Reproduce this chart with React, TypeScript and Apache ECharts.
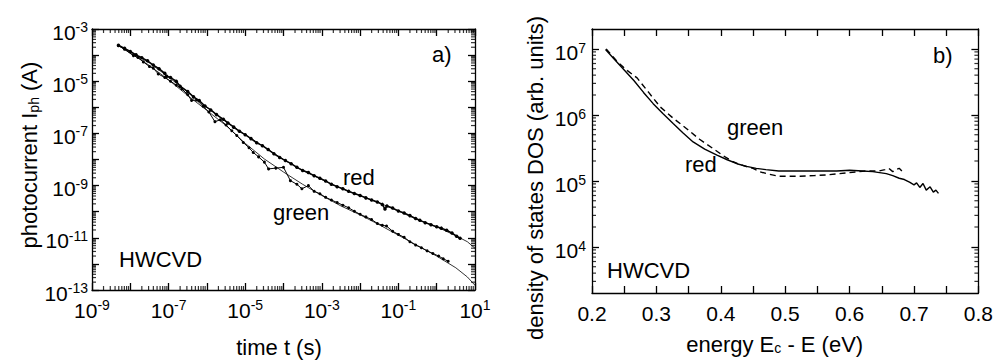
import React, { useEffect, useRef } from 'react';
import * as echarts from 'echarts';

const FONT = '"Liberation Sans", Arial, Helvetica, sans-serif';

// ---------- Panel a) : photocurrent transients (log10 time, log10 current) ----------
const aTimeTickExps = [-9, -8, -7, -6, -5, -4, -3, -2, -1, 0, 1];
const aTimeLabelExps = [-9, -7, -5, -3, -1, 1];
const aCurrentTickExps = [-13, -12, -11, -10, -9, -8, -7, -6, -5, -4, -3];
const aCurrentLabelExps = [-13, -11, -9, -7, -5, -3];

const redMeasured: [number, number][] = [
  [-8.31, -3.62], [-8.15, -3.74], [-8.0, -3.86], [-7.85, -3.99], [-7.7, -4.1], [-7.55, -4.22],
  [-7.4, -4.38], [-7.25, -4.52], [-7.1, -4.7], [-7.05, -4.81], [-6.95, -4.86], [-6.8, -5.0],
  [-6.7, -5.19], [-6.5, -5.4], [-6.35, -5.6], [-6.2, -5.74], [-6.05, -5.95], [-5.9, -6.1],
  [-5.75, -6.28], [-5.57, -6.46], [-5.45, -6.6], [-5.3, -6.76], [-5.15, -6.92], [-5.0, -7.05],
  [-4.85, -7.2], [-4.7, -7.36], [-4.55, -7.47], [-4.4, -7.62], [-4.25, -7.78], [-4.1, -7.92],
  [-3.95, -8.04], [-3.8, -8.16], [-3.65, -8.3], [-3.5, -8.42], [-3.35, -8.5], [-3.2, -8.62],
  [-3.05, -8.72], [-2.9, -8.82], [-2.75, -8.95], [-2.6, -9.04], [-2.45, -9.12], [-2.3, -9.22],
  [-2.15, -9.3], [-2.0, -9.38], [-1.85, -9.47], [-1.7, -9.55], [-1.55, -9.63], [-1.42, -9.72],
  [-1.35, -9.9], [-1.3, -9.78], [-1.15, -9.86], [-1.0, -9.97], [-0.85, -10.05], [-0.7, -10.15],
  [-0.55, -10.26], [-0.44, -10.33], [-0.3, -10.42], [-0.15, -10.5], [0.0, -10.58], [0.12, -10.63],
  [0.26, -10.71], [0.4, -10.82], [0.52, -10.94], [0.61, -11.02],
];

const greenMeasured: [number, number][] = [
  [-8.31, -3.64], [-8.15, -3.78], [-7.92, -4.02], [-7.8, -4.09], [-7.66, -4.26], [-7.5, -4.44],
  [-7.4, -4.5], [-7.27, -4.72], [-7.1, -4.86], [-6.95, -5.0], [-6.8, -5.15], [-6.65, -5.3],
  [-6.5, -5.52], [-6.4, -5.74], [-6.27, -5.72], [-6.1, -5.96], [-5.95, -6.18], [-5.79, -6.55],
  [-5.65, -6.48], [-5.5, -6.68], [-5.35, -6.9], [-5.22, -7.08], [-5.05, -7.35], [-4.9, -7.55],
  [-4.79, -7.73], [-4.65, -7.9], [-4.5, -8.1], [-4.39, -8.36], [-4.2, -8.33], [-4.0, -8.3],
  [-3.82, -8.81], [-3.65, -8.95], [-3.52, -9.12], [-3.35, -9.0], [-3.2, -9.22], [-3.05, -9.31],
  [-2.9, -9.45], [-2.75, -9.55], [-2.6, -9.65], [-2.45, -9.75], [-2.3, -9.85], [-2.15, -9.98],
  [-2.0, -10.1], [-1.85, -10.2], [-1.7, -10.3], [-1.55, -10.45], [-1.42, -10.52], [-1.31, -10.55],
  [-1.15, -10.75], [-1.0, -10.87], [-0.85, -10.98], [-0.7, -11.15], [-0.55, -11.28], [-0.4, -11.38],
  [-0.25, -11.5], [-0.1, -11.6], [0.05, -11.7], [0.17, -11.8], [0.3, -11.9],
];

const redFit: [number, number][] = [
  [-8.31, -3.63], [-8.0, -3.88], [-7.5, -4.3], [-7.0, -4.84], [-6.5, -5.42], [-6.0, -6.0],
  [-5.5, -6.55], [-5.0, -7.05], [-4.5, -7.52], [-4.0, -8.0], [-3.5, -8.42], [-3.0, -8.77],
  [-2.5, -9.1], [-2.0, -9.38], [-1.5, -9.66], [-1.0, -9.98], [-0.5, -10.3], [0.0, -10.58],
  [0.5, -10.92], [0.8, -11.15], [1.0, -11.4],
];

const greenFit: [number, number][] = [
  [-8.31, -3.63], [-8.0, -3.92], [-7.5, -4.4], [-7.0, -4.95], [-6.5, -5.55], [-6.0, -6.12],
  [-5.5, -6.7], [-5.0, -7.38], [-4.5, -7.98], [-4.0, -8.48], [-3.5, -8.95], [-3.0, -9.38],
  [-2.5, -9.78], [-2.0, -10.12], [-1.5, -10.5], [-1.0, -10.9], [-0.5, -11.3], [0.0, -11.7],
  [0.5, -12.15], [0.8, -12.5], [1.0, -12.82],
];

// ---------- Panel b) : density of states (energy eV, log10 DOS) ----------
const bEnergyTicks = [0.2, 0.25, 0.3, 0.35, 0.4, 0.45, 0.5, 0.55, 0.6, 0.65, 0.7, 0.75, 0.8];
const bEnergyLabels = [0.2, 0.3, 0.4, 0.5, 0.6, 0.7, 0.8];
const bDosTickExps = [4, 5, 6, 7];
const bDosLabelExps = [4, 5, 6, 7];
const bDosMinExp = Math.log10(2e3);
const bDosMaxExp = Math.log10(2e7);

const redDos: [number, number][] = [
  [0.221, 6.99], [0.235, 6.84], [0.25, 6.68], [0.265, 6.52], [0.28, 6.34], [0.295, 6.17],
  [0.31, 6.02], [0.326, 5.87], [0.341, 5.73], [0.357, 5.59], [0.375, 5.48], [0.394, 5.39],
  [0.41, 5.32], [0.425, 5.26], [0.44, 5.22], [0.455, 5.19], [0.47, 5.17], [0.49, 5.15],
  [0.52, 5.15], [0.55, 5.15], [0.58, 5.15], [0.6, 5.16], [0.62, 5.15], [0.636, 5.14],
  [0.657, 5.11], [0.667, 5.08], [0.677, 5.04], [0.685, 5.02], [0.693, 4.98], [0.7, 4.94],
  [0.704, 4.97], [0.709, 4.9], [0.714, 4.96], [0.719, 4.86], [0.725, 4.91], [0.73, 4.83],
  [0.734, 4.86], [0.738, 4.81],
];

const greenDos: [number, number][] = [
  [0.222, 7.0], [0.24, 6.8], [0.255, 6.67], [0.27, 6.56], [0.288, 6.34], [0.306, 6.12],
  [0.326, 5.95], [0.347, 5.79], [0.367, 5.63], [0.388, 5.49], [0.404, 5.38], [0.419, 5.29],
  [0.435, 5.23], [0.45, 5.19], [0.46, 5.14], [0.471, 5.11], [0.49, 5.07], [0.523, 5.07],
  [0.545, 5.08], [0.564, 5.09], [0.595, 5.12], [0.626, 5.15], [0.646, 5.15], [0.655, 5.17],
  [0.661, 5.19], [0.667, 5.14], [0.672, 5.17], [0.677, 5.19], [0.682, 5.14], [0.686, 5.15],
];

function logMinorTicks(lo: number, hi: number): number[] {
  const out: number[] = [];
  for (let n = Math.floor(lo) - 1; n <= Math.ceil(hi); n++) {
    for (let k = 2; k <= 9; k++) {
      const v = n + Math.log10(k);
      if (v > lo + 1e-6 && v < hi - 1e-6) out.push(v);
    }
  }
  return out;
}

const BLACK = '#000';
const LABEL_SIZE = 21;
const TITLE_SIZE = 22;

const richPow = {
  b: { fontSize: LABEL_SIZE, fontFamily: FONT, color: BLACK, lineHeight: 24 },
  e: { fontSize: 14, fontFamily: FONT, color: BLACK, verticalAlign: 'top', lineHeight: 14 },
};
const powFormatter = (v: number) => `{b|10}{e|${Math.round(v)}}`;

function axisPair(
  kind: 'x' | 'y',
  gridIndex: number,
  min: number,
  max: number,
  major: number[],
  labels: number[],
  formatter: (v: number) => string,
  rich: any,
  name: string,
  nameGap: number,
  namePadding: number[],
  labelMargin: number,
  labelPadding: number[]
) {
  const posMain = kind === 'x' ? 'bottom' : 'left';
  const posMirror = kind === 'x' ? 'top' : 'right';
  const base = { type: 'value', gridIndex, min, max, splitLine: { show: false } };
  const line = { show: true, onZero: false, lineStyle: { color: BLACK, width: 1.3 } };
  const tick = { show: true, inside: true, length: 7, customValues: major, lineStyle: { color: BLACK, width: 1.3 } };
  return [
    {
      ...base,
      position: posMain,
      axisLine: line,
      axisTick: tick,
      axisLabel: {
        show: true, customValues: labels, formatter, rich, margin: labelMargin, padding: labelPadding,
        color: BLACK, fontSize: LABEL_SIZE, fontFamily: FONT,
      },
      name,
      nameLocation: 'middle',
      nameGap,
      nameTextStyle: {
        color: BLACK, fontSize: TITLE_SIZE, fontFamily: FONT, padding: namePadding,
        rich: { s: { fontSize: 14, fontFamily: FONT, color: BLACK, verticalAlign: 'bottom' } },
      },
    },
    { ...base, position: posMirror, axisLine: line, axisTick: tick, axisLabel: { show: false } },
  ];
}

// minor (log) ticks drawn as thin rect symbols sitting on the frame, pointing inwards
const MINOR = 4;
function minorTicks(
  xAxisIndex: number, yAxisIndex: number,
  xMinor: number[], yMinor: number[],
  xMin: number, xMax: number, yMin: number, yMax: number
) {
  const common = {
    type: 'scatter', xAxisIndex, yAxisIndex, symbol: 'rect', silent: true, clip: false, z: 6,
    itemStyle: { color: BLACK },
  };
  const out: any[] = [];
  if (xMinor.length) {
    out.push({ ...common, data: xMinor.map((v) => [v, yMin]), symbolSize: [1.2, MINOR], symbolOffset: [0, -MINOR / 2] });
    out.push({ ...common, data: xMinor.map((v) => [v, yMax]), symbolSize: [1.2, MINOR], symbolOffset: [0, MINOR / 2] });
  }
  if (yMinor.length) {
    out.push({ ...common, data: yMinor.map((v) => [xMin, v]), symbolSize: [MINOR, 1.2], symbolOffset: [MINOR / 2, 0] });
    out.push({ ...common, data: yMinor.map((v) => [xMax, v]), symbolSize: [MINOR, 1.2], symbolOffset: [-MINOR / 2, 0] });
  }
  return out;
}

function textEl(text: string, x: number, y: number) {
  return {
    type: 'text',
    x,
    y,
    silent: true,
    style: {
      text, fill: BLACK, fontSize: TITLE_SIZE, fontFamily: FONT,
      textVerticalAlign: 'middle', verticalAlign: 'middle', textAlign: 'left', align: 'left',
    },
  };
}

export default function App() {
  const ref = useRef<HTMLDivElement>(null);
  useEffect(() => {
    if (!ref.current) return;
    const chart = echarts.init(ref.current, undefined, { renderer: 'svg' });

    const xA = axisPair('x', 0, -9, 1, aTimeTickExps, aTimeLabelExps, powFormatter, richPow,
      'time t (s)', 46, [0, 9, 0, 0], 8, [0, 0, 0, 0]);
    const yA = axisPair('y', 0, -13, -3, aCurrentTickExps, aCurrentLabelExps, powFormatter, richPow,
      'photocurrent I{s|ph} (A)', 50, [0, 0, 0, 9], 4, [6, 0, 0, 0]);
    const xB = axisPair('x', 1, 0.2, 0.8, bEnergyTicks, bEnergyLabels, (v: number) => v.toFixed(1), undefined,
      'energy E{s|c} - E (eV)', 40, [0, 21, 0, 0], 10, [0, 0, 0, 0]);
    const yB = axisPair('y', 1, bDosMinExp, bDosMaxExp, bDosTickExps, bDosLabelExps,
      powFormatter, richPow, 'density of states DOS (arb. units)', 46, [0, 34, 0, 0], 6, [8, 0, 0, 0]);

    const option: any = {
      animation: false,
      backgroundColor: '#fff',
      grid: [
        { left: 92, top: 29, width: 383, height: 263 },
        { left: 592, top: 29, width: 387, height: 264 },
      ],
      xAxis: [...xA, ...xB],
      yAxis: [...yA, ...yB],
      series: [
        ...minorTicks(0, 0, logMinorTicks(-9, 1), logMinorTicks(-13, -3), -9, 1, -13, -3),
        ...minorTicks(2, 2, [], logMinorTicks(bDosMinExp, bDosMaxExp), 0.2, 0.8, bDosMinExp, bDosMaxExp),
        {
          type: 'line', name: 'red fit', xAxisIndex: 0, yAxisIndex: 0, data: redFit, showSymbol: false,
          lineStyle: { color: BLACK, width: 0.8 }, silent: true, z: 2,
        },
        {
          type: 'line', name: 'green fit', xAxisIndex: 0, yAxisIndex: 0, data: greenFit, showSymbol: false,
          lineStyle: { color: BLACK, width: 0.8 }, silent: true, z: 2,
        },
        {
          type: 'line', name: 'red', xAxisIndex: 0, yAxisIndex: 0, data: redMeasured, symbol: 'circle', symbolSize: 3.5,
          itemStyle: { color: BLACK }, lineStyle: { color: BLACK, width: 1.5 }, silent: true, z: 3,
        },
        {
          type: 'line', name: 'green', xAxisIndex: 0, yAxisIndex: 0, data: greenMeasured, symbol: 'circle', symbolSize: 3,
          itemStyle: { color: BLACK }, lineStyle: { color: BLACK, width: 1 }, silent: true, z: 3,
        },
        {
          type: 'line', name: 'red DOS', xAxisIndex: 2, yAxisIndex: 2, data: redDos, showSymbol: false,
          lineStyle: { color: BLACK, width: 1.4 }, silent: true,
        },
        {
          type: 'line', name: 'green DOS', xAxisIndex: 2, yAxisIndex: 2, data: greenDos, showSymbol: false,
          lineStyle: { color: BLACK, width: 1.4, type: [6, 4] }, silent: true,
        },
      ],
      graphic: [
        textEl('a)', 432, 54),
        textEl('red', 343, 177.5),
        textEl('green', 273, 212),
        textEl('HWCVD', 119, 259.5),
        textEl('b)', 933, 55.5),
        textEl('green', 727, 127),
        textEl('red', 685, 164.5),
        textEl('HWCVD', 607, 270.5),
      ],
    };
    chart.setOption(option);
    return () => chart.dispose();
  }, []);
  return <div ref={ref} style={{ position: 'fixed', left: 0, top: 0, width: 996, height: 363, background: '#fff' }} />;
}
